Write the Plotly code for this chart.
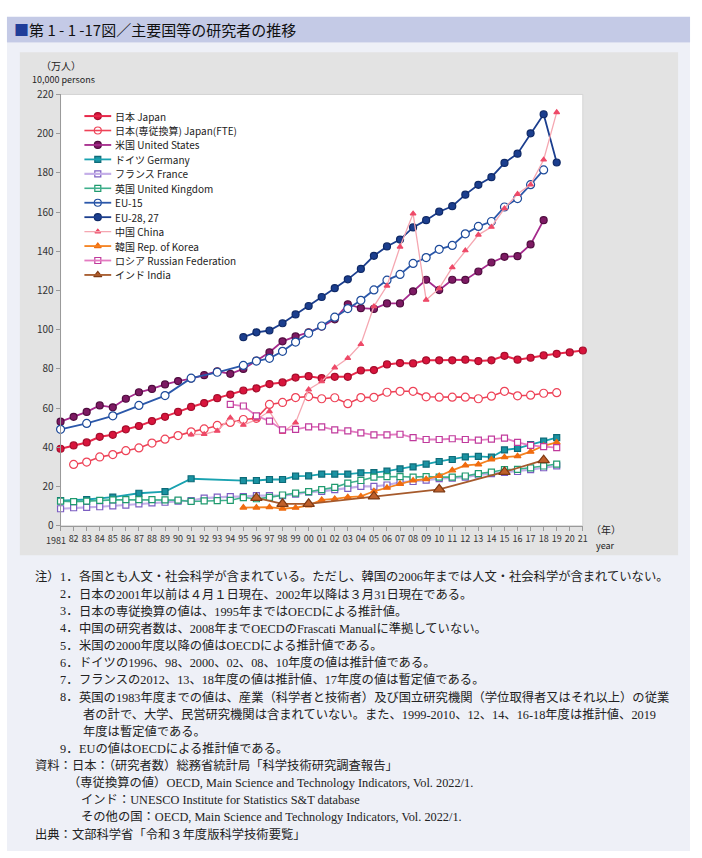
import plotly.graph_objects as go

W, H = 702, 858

# ---------------- data (万人 / 10,000 persons) ----------------
years = [1981, 1982, 1983, 1984, 1985, 1986, 1987, 1988, 1989, 1990,
         1991, 1992, 1993, 1994, 1995, 1996, 1997, 1998, 1999, 2000,
         2001, 2002, 2003, 2004, 2005, 2006, 2007, 2008, 2009, 2010,
         2011, 2012, 2013, 2014, 2015, 2016, 2017, 2018, 2019, 2020, 2021]
first_year_label = "1981"
year_labels = ["", "82", "83", "84", "85", "86", "87", "88", "89", "90",
               "91", "92", "93", "94", "95", "96", "97", "98", "99", "00",
               "01", "02", "03", "04", "05", "06", "07", "08", "09", "10",
               "11", "12", "13", "14", "15", "16", "17", "18", "19", "20", "21"]

japan = [39.3, 41.0, 42.5, 45.4, 46.4, 49.2, 50.9, 53.4, 55.6, 58.1,
         60.6, 62.6, 65.1, 66.9, 69.0, 70.1, 72.3, 73.1, 75.6, 76.3,
         75.3, 76.0, 76.0, 79.2, 79.4, 82.3, 83.0, 82.8, 84.4, 84.4,
         84.4, 84.7, 84.0, 84.4, 86.7, 84.7, 85.7, 86.9, 87.7, 88.4, 89.4]
japan_fte = [None, 31.3, 32.5, 35.1, 36.3, 38.3, 39.7, 42.2, 44.2, 46.0,
             47.9, 49.4, 51.2, 52.7, 54.2, 54.8, 61.9, 62.9, 65.4, 65.9,
             64.8, 65.3, 62.3, 65.4, 65.5, 68.1, 68.6, 68.6, 65.8, 65.6,
             65.6, 65.6, 64.8, 66.1, 68.6, 66.3, 66.6, 67.6, 67.9, None, None]
usa = [53.1, 55.6, 58.1, 61.4, 60.4, 64.8, 68.1, 69.8, 72.1, 73.8,
       75.1, 76.8, 78.8, 77.5, 80.0, 84.2, 88.5, 94.1, 96.6, 98.7,
       101.6, 105.3, 113.0, 111.0, 110.6, 113.4, 113.4, 119.6, 125.5, 120.2,
       125.5, 125.4, 129.7, 134.3, 137.2, 137.5, 143.5, 155.9, None, None, None]
germany = [12.8, None, 13.4, None, 14.6, None, 16.6, None, 17.4, None,
           24.0, None, None, None, 23.0, 23.1, 23.6, 23.6, 25.3, 25.5,
           26.4, 26.3, 26.4, 27.0, 27.1, 27.9, 29.0, 30.0, 31.4, 32.8,
           33.8, 35.1, 35.4, 35.0, 38.7, 39.5, 41.4, 43.2, 45.0, None, None]
france = [8.7, 9.2, 9.4, 9.7, 10.2, 10.5, 11.2, 11.7, 12.0, 12.6,
          12.9, 14.1, 14.6, 14.9, 14.9, 15.4, 15.4, 15.4, 16.1, 17.1,
          17.6, 18.4, 19.1, 20.1, 20.1, 20.8, 22.1, 22.6, 23.3, 24.1,
          24.3, 24.8, 25.9, 26.6, 27.2, 27.7, 28.6, 29.6, 30.6, None, None]
uk = [12.6, 12.3, 12.6, 13.0, 13.2, 13.3, 13.3, 13.3, 13.2, 13.1,
      12.4, 12.7, 12.8, 13.0, 14.4, 13.8, 14.5, 15.7, 16.7, 17.4,
      18.4, 19.6, 21.8, 23.1, 24.8, 25.1, 25.1, 24.8, 25.1, 24.8,
      24.8, 25.4, 26.6, 27.4, 28.6, 28.8, 29.5, 30.5, 31.5, None, None]
eu15 = [49.2, None, 52.2, None, 56.1, None, 61.4, None, 66.4, None,
        75.3, None, 78.3, None, 81.8, 84.0, 85.4, 89.0, 93.7, 98.2,
        101.9, 106.4, 110.8, 115.0, 120.3, 125.3, 128.2, 133.8, 136.8, 141.0,
        143.0, 148.9, 152.7, 155.2, 162.6, 166.9, 174.0, 181.5, None, None, None]
eu28 = [None, None, None, None, None, None, None, None, None, None,
        None, None, None, None, 96.2, 98.7, 99.6, 103.3, 107.8, 112.1,
        116.7, 121.2, 125.7, 131.0, 137.7, 142.5, 146.0, 152.2, 155.9, 160.2,
        163.0, 168.9, 173.9, 177.8, 185.1, 189.8, 200.2, 209.9, 185.3, None, None]
china = [None, None, None, None, None, None, None, None, None, None,
         46.5, 46.7, 48.4, 55.1, 51.4, 54.2, 58.4, 47.7, 52.6, 69.5,
         73.6, 80.7, 85.5, 92.6, 111.9, 122.4, 142.3, 159.2, 115.2, 121.1,
         131.8, 140.4, 148.4, 152.4, 161.9, 169.2, 174.0, 186.7, 210.9, None, None]
korea = [None, None, None, None, None, None, None, None, None, None,
         None, None, None, None, 9.3, 9.3, 9.5, 8.8, 9.2, 10.4,
         13.2, 13.7, 14.6, 15.0, 17.6, 19.4, 21.4, 23.1, 23.8, 25.4,
         28.3, 30.8, 31.3, 33.8, 35.0, 35.5, 37.8, 40.8, 42.5, None, None]
russia = [None, None, None, None, None, None, None, None, None, None,
          None, None, None, 61.9, 61.1, 56.1, 53.4, 48.9, 49.2, 50.4,
          50.4, 48.9, 48.4, 47.4, 46.4, 46.4, 46.7, 45.0, 44.0, 44.0,
          44.4, 44.0, 43.7, 44.2, 44.7, 42.5, 41.0, 40.4, 39.9, None, None]
india = [None, None, None, None, None, None, None, None, None, None,
         None, None, None, None, None, 14.2, None, 11.2, None, 11.2,
         None, None, None, None, 15.0, None, None, None, None, 18.6,
         None, None, None, None, 27.5, None, None, 33.5, None, None, None]

names = ["日本 Japan", "日本(専従換算) Japan(FTE)", "米国 United States",
         "ドイツ Germany", "フランス France", "英国 United Kingdom", "EU-15",
         "EU-28, 27", "中国 China", "韓国 Rep. of Korea",
         "ロシア Russian Federation", "インド India"]
values = [japan, japan_fte, usa, germany, france, uk, eu15, eu28,
          china, korea, russia, india]

# ---------------- styles ----------------
styles = [
    dict(lc="#e8284a", lw=2.0, sym="circle", ms=7, mf="#d8143c", ml="#a50d2c"),
    dict(lc="#ee4257", lw=1.6, sym="circle", ms=8, mf="#ffffff", ml="#ee4257"),
    dict(lc="#a52a8c", lw=1.8, sym="circle", ms=7, mf="#7d1a63", ml="#4f0c3e"),
    dict(lc="#19a2b0", lw=1.8, sym="square", ms=6, mf="#1a92a2", ml="#0d6b78"),
    dict(lc="#c4aee8", lw=2.2, sym="square", ms=6, mf="#ffffff", ml="#7c5ec2"),
    dict(lc="#3fb08d", lw=1.6, sym="square", ms=6, mf="#ffffff", ml="#1f9a6e"),
    dict(lc="#2b58aa", lw=1.8, sym="circle", ms=8, mf="#ffffff", ml="#1d4a9a"),
    dict(lc="#1b3e8e", lw=1.8, sym="circle", ms=7, mf="#1b3e8e", ml="#0f2966"),
    dict(lc="#f5a7b1", lw=1.3, sym="triangle-up", ms=5, mf="#ee4a68", ml="#ee4a68"),
    dict(lc="#f5821f", lw=1.8, sym="triangle-up", ms=6, mf="#f06c10", ml="#f06c10"),
    dict(lc="#e47bc1", lw=1.8, sym="square", ms=6, mf="#ffffff", ml="#c03a9c"),
    dict(lc="#a65a2c", lw=1.8, sym="triangle-up", ms=10, mf="#c0602a", ml="#7e3a14"),
]

JP = "Noto Sans CJK JP"
NOTE_FONT = "Liberation Serif, Noto Sans CJK JP"
TXT = "#222222"


def px(x):
    return x / W


def py(y):
    return 1 - y / H


fig = go.Figure()

for name, vals, st in zip(names, values, styles):
    fig.add_trace(go.Scatter(
        x=years, y=vals, name=name, mode="lines+markers",
        connectgaps=True, cliponaxis=False, showlegend=False,
        line=dict(color=st["lc"], width=st["lw"]),
        marker=dict(symbol=st["sym"], size=st["ms"], color=st["mf"],
                    line=dict(color=st["ml"], width=1.2)),
        xaxis="x", yaxis="y",
    ))

# ---------------- custom legend (pixel overlay axes) ----------------
leg_top, leg_pitch = 110, 14.7
shapes = [
    dict(type="rect", xref="paper", yref="paper", x0=px(7), x1=px(695),
         y0=py(858), y1=py(35), fillcolor="#eef0f7", line=dict(width=0), layer="below"),
    dict(type="rect", xref="paper", yref="paper", x0=px(7), x1=px(695),
         y0=py(35), y1=py(9), fillcolor="#c4cae6", line=dict(width=0), layer="below"),
    dict(type="rect", xref="paper", yref="paper", x0=px(20), x1=px(683),
         y0=py(557), y1=py(45), fillcolor="#e3e3e3", line=dict(width=0), layer="below"),
    dict(type="rect", xref="paper", yref="paper", x0=px(61), x1=px(587),
         y0=py(527), y1=py(88), fillcolor="#ffffff",
         line=dict(width=1, color="#d4d4d4"), layer="below"),
]
annotations = []
for i, (name, st) in enumerate(zip(names, styles)):
    yy = leg_top + i * leg_pitch
    shapes.append(dict(type="line", xref="paper", yref="paper",
                       x0=px(85), x1=px(112), y0=py(yy), y1=py(yy),
                       line=dict(color=st["lc"], width=st["lw"]), layer="above"))
    fig.add_trace(go.Scatter(
        x=[98.5], y=[yy], mode="markers", showlegend=False, hoverinfo="skip",
        marker=dict(symbol=st["sym"], size=min(st["ms"], 7), color=st["mf"],
                    line=dict(color=st["ml"], width=1.2)),
        xaxis="x2", yaxis="y2",
    ))
    annotations.append(dict(x=px(114), y=py(yy), xref="paper", yref="paper",
                            text=name, showarrow=False, xanchor="left",
                            yanchor="middle", font=dict(family=JP, size=10, color=TXT)))

# ---------------- titles & axis labels ----------------
annotations += [
    dict(x=px(12), y=py(22), xref="paper", yref="paper", showarrow=False,
         xanchor="left", yanchor="middle",
         text="<span style='color:#1f3d99'>■</span>第 1 - 1 -17図／主要国等の研究者の推移",
         font=dict(family=JP, size=15, color="#111111")),
    dict(x=px(61), y=py(58.5), xref="paper", yref="paper", showarrow=False,
         xanchor="center", yanchor="middle", text="（万人）",
         font=dict(family=JP, size=10, color=TXT)),
    dict(x=px(64), y=py(72.8), xref="paper", yref="paper", showarrow=False,
         xanchor="center", yanchor="middle", text="10,000 persons",
         font=dict(family=JP, size=9, color=TXT)),
    dict(x=px(610), y=py(531), xref="paper", yref="paper", showarrow=False,
         xanchor="center", yanchor="middle", text="（年）",
         font=dict(family=JP, size=10, color=TXT)),
    dict(x=px(610), y=py(547), xref="paper", yref="paper", showarrow=False,
         xanchor="center", yanchor="middle", text="year",
         font=dict(family=JP, size=9, color=TXT)),
    # first x tick label, set slightly left/below its tick so it clears "82" and "0"
    dict(x=px(67.5), y=py(541.5), xref="paper", yref="paper", showarrow=False,
         xanchor="right", yanchor="middle", text=first_year_label, borderpad=0,
         font=dict(family=JP, size=9, color="#333333")),
]

# ---------------- notes ----------------
NF = dict(family=NOTE_FONT, size=12.3, color="#222222")
notes = [
    # (x, line index, text)
    (33, 0, "注）"),
    (58, 0, "1．"), (78, 0, "各国とも人文・社会科学が含まれている。ただし、韓国の2006年までは人文・社会科学が含まれていない。"),
    (58, 1, "2．"), (78, 1, "日本の2001年以前は４月１日現在、2002年以降は３月31日現在である。"),
    (58, 2, "3．"), (78, 2, "日本の専従換算の値は、1995年まではOECDによる推計値。"),
    (58, 3, "4．"), (78, 3, "中国の研究者数は、2008年までOECDのFrascati Manualに準拠していない。"),
    (58, 4, "5．"), (78, 4, "米国の2000年度以降の値はOECDによる推計値である。"),
    (58, 5, "6．"), (78, 5, "ドイツの1996、98、2000、02、08、10年度の値は推計値である。"),
    (58, 6, "7．"), (78, 6, "フランスの2012、13、18年度の値は推計値、17年度の値は暫定値である。"),
    (58, 7, "8．"), (78, 7, "英国の1983年度までの値は、産業（科学者と技術者）及び国立研究機関（学位取得者又はそれ以上）の従業"),
    (82, 8, "者の計で、大学、民営研究機関は含まれていない。また、1999-2010、12、14、16-18年度は推計値、2019"),
    (82, 9, "年度は暫定値である。"),
    (58, 10, "9．"), (78, 10, "EUの値はOECDによる推計値である。"),
    (33, 11, "資料：日本：（研究者数）総務省統計局「科学技術研究調査報告」"),
    (66, 12, "（専従換算の値）OECD, Main Science and Technology Indicators, Vol. 2022/1."),
    (80, 13, "インド：UNESCO Institute for Statistics S&T database"),
    (80, 14, "その他の国：OECD, Main Science and Technology Indicators, Vol. 2022/1."),
    (33, 15, "出典：文部科学省「令和３年度版科学技術要覧」"),
]
for x, row, t in notes:
    annotations.append(dict(x=px(x), y=py(579 + row * 17.47), xref="paper", yref="paper",
                            text=t, showarrow=False, xanchor="left", yanchor="middle",
                            font=NF))

fig.update_layout(
    width=W, height=H,
    margin=dict(l=0, r=0, t=0, b=0),
    paper_bgcolor="#ffffff",
    plot_bgcolor="rgba(0,0,0,0)",
    showlegend=False,
    shapes=shapes,
    annotations=annotations,
    font=dict(family=JP, color=TXT),
    xaxis=dict(domain=[px(61), px(587)], range=[1981, 2021], anchor="y",
               tickmode="array", tickvals=years, ticktext=year_labels,
               tickangle=0, ticks="outside", ticklen=4, tickcolor="#9a9a9a",
               showline=True, linecolor="#9a9a9a", linewidth=1,
               showgrid=False, zeroline=False,
               tickfont=dict(family=JP, size=9, color="#333333")),
    yaxis=dict(domain=[py(527), py(88)], range=[0, 220], anchor="x",
               tick0=0, dtick=20, ticks="outside", ticklen=4, tickcolor="#9a9a9a",
               showline=True, linecolor="#9a9a9a", linewidth=1,
               showgrid=False, zeroline=False,
               tickfont=dict(family=JP, size=10, color="#333333")),
    xaxis2=dict(domain=[0, 1], range=[0, W], anchor="y2", visible=False, fixedrange=True),
    yaxis2=dict(domain=[0, 1], range=[H, 0], anchor="x2", visible=False, fixedrange=True),
)

fig.write_html("out.html",
               config={"displayModeBar": False},
               post_script="document.body.style.margin='0px';document.body.style.overflow='hidden';")
